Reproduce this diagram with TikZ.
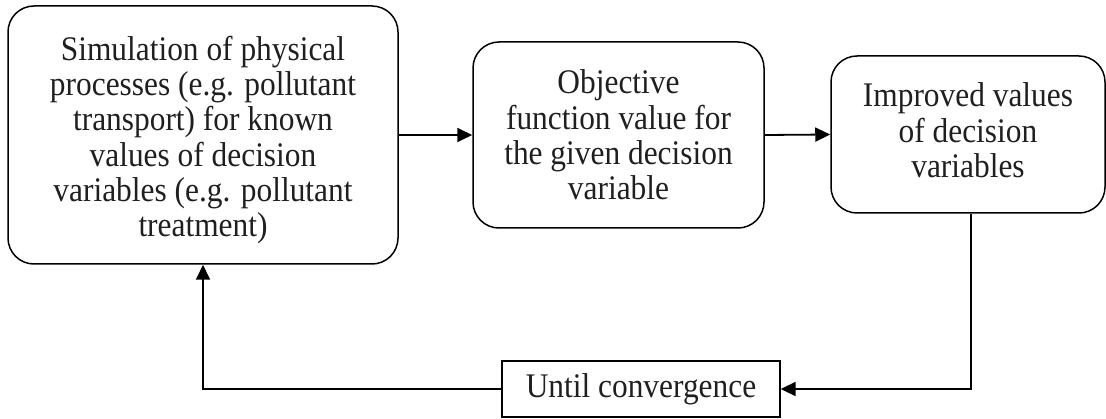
\documentclass[tikz,border=0pt]{standalone}
\usepackage{fontspec}
\setmainfont[FakeStretch=0.91]{Liberation Serif}
\usetikzlibrary{arrows.meta}
\begin{document}
\begin{tikzpicture}[x=1pt,y=1pt,
  rbox/.style={draw, line width=1.5pt, rounded corners=26pt, inner sep=0pt},
  btext/.style={align=center, inner sep=0pt, font=\fontsize{34.5}{35.3}\selectfont, text=black!88},
  sbox/.style={draw, line width=1.3pt, align=center, inner sep=0pt,
    font=\fontsize{34.5}{35.3}\selectfont, text=black!88},
  conn/.style={line width=1.8pt, -{Triangle[length=15pt,width=14pt]}}]
\useasboundingbox (0,0) rectangle (1106,418);
\node[rbox, minimum width=390pt, minimum height=258pt] (b1) at (203,283) {};
\node[btext] (t1) at ([yshift=-5pt]b1.center)
  {Simulation of physical\\processes (e.g. pollutant\\transport) for known\\values of decision\\variables (e.g. pollutant\\treatment)};
\node[rbox, minimum width=291pt, minimum height=186pt] (b2) at (618.5,283) {};
\node[btext] (t2) at (b2.center)
  {Objective\\function value for\\the given decision\\variable};
\node[rbox, minimum width=274pt, minimum height=157pt] (b3) at (968,283.5) {};
\node[btext] (t3) at ([yshift=4pt]b3.center)
  {Improved values\\of decision\\variables};
\node[sbox, minimum width=278pt, minimum height=56pt] (u) at (641,29)
  {Until convergence};
\draw[conn] (b1.east) -- (b2.west);
\draw[conn] (b2.east) -- (b3.west);
\draw[conn] ([xshift=3pt]b3.south) |- (u.east);
\draw[conn] (u.west) -| (b1.south);
\end{tikzpicture}
\end{document}
